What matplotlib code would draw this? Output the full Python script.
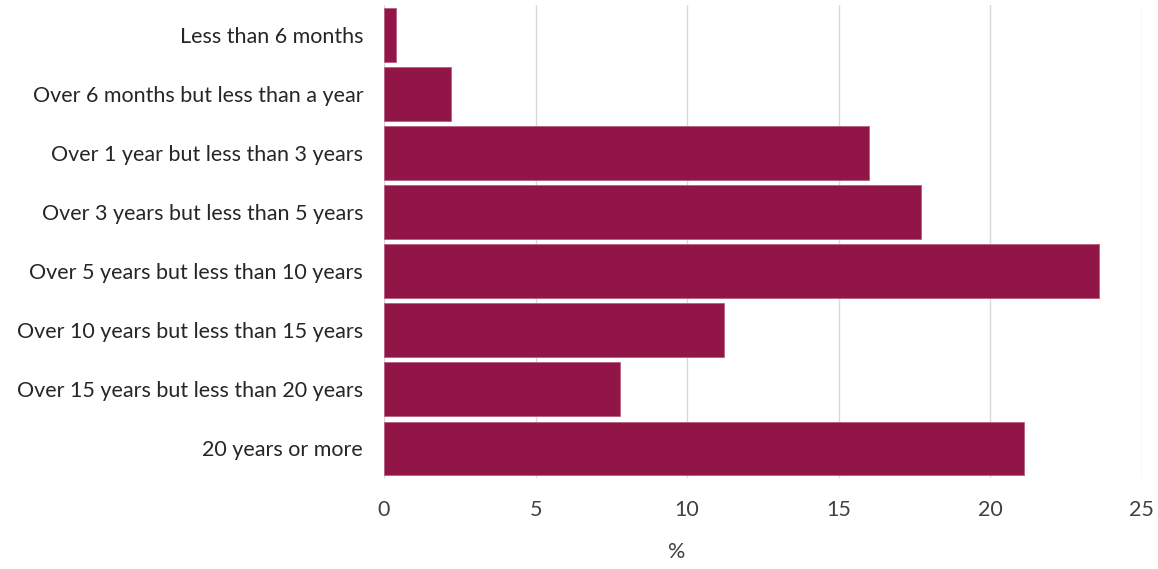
import matplotlib
matplotlib.use('Agg')
import matplotlib.pyplot as plt
import numpy as np

categories = [
    'Less than 6 months',
    'Over 6 months but less than a year',
    'Over 1 year but less than 3 years',
    'Over 3 years but less than 5 years',
    'Over 5 years but less than 10 years',
    'Over 10 years but less than 15 years',
    'Over 15 years but less than 20 years',
    '20 years or more',
]
values = [0.4, 2.2, 16.0, 17.7, 23.6, 11.2, 7.8, 21.1]
x_ticks = [0, 5, 10, 15, 20, 25]

plt.rcParams['font.family'] = ['Lato', 'DejaVu Sans']

fig = plt.figure(figsize=(11.58, 5.69), dpi=100)
ax = fig.add_axes([0.3316, 0.160, 0.6545, 0.831])

y = np.arange(len(categories))
ax.barh(y, values, height=0.91, color='#921547', edgecolor='#b5607f', linewidth=0.6, zorder=3)

ax.set_ylim(len(categories) - 0.5, -0.5)
ax.set_xlim(0, 25)
ax.set_xticks(x_ticks)
ax.set_yticks(y)
ax.set_yticklabels(categories, fontsize=15.5, color='#262626')
ax.tick_params(axis='x', labelsize=15.5, colors='#404040', length=0, pad=16)
ax.tick_params(axis='y', length=0, pad=15)
ax.grid(axis='x', color='#d9d9d9', linewidth=1, zorder=0)
for s in ax.spines.values():
    s.set_visible(False)
ax.set_xlabel('%', fontsize=15.5, color='#404040')
ax.xaxis.set_label_coords(0.3865, -0.135)

fig.savefig('out.png', dpi=100)
